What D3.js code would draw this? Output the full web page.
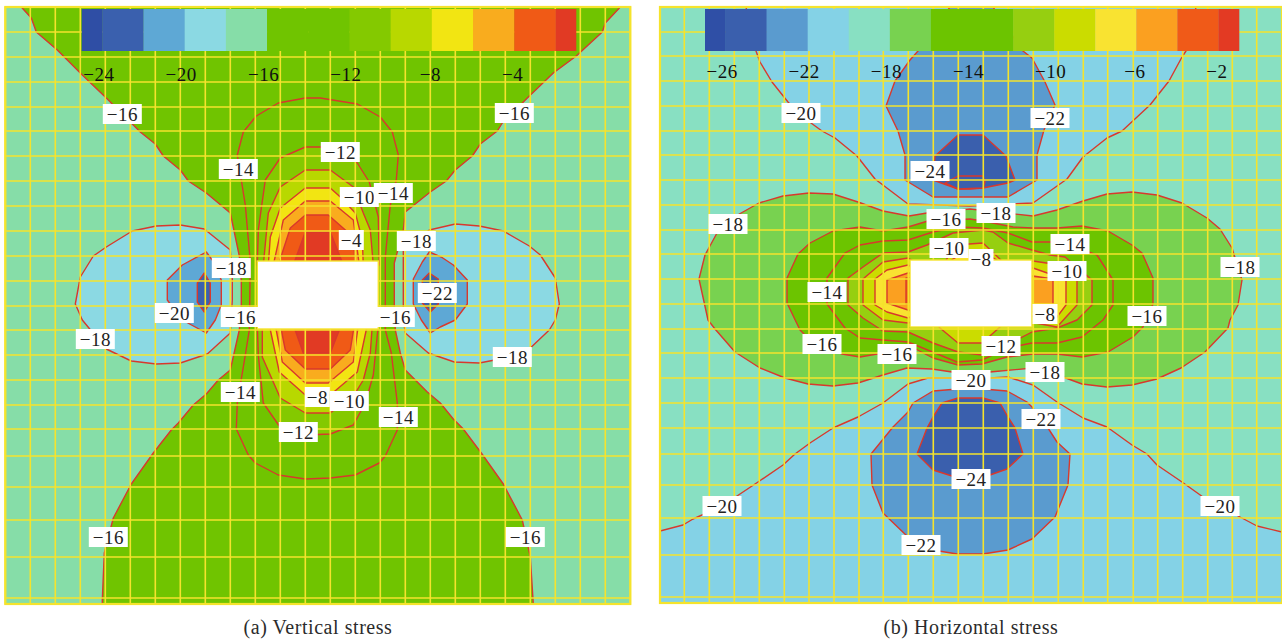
<!DOCTYPE html>
<html><head><meta charset="utf-8">
<style>html,body{margin:0;padding:0;background:#fff}svg{display:block}</style>
<script src="https://cdn.jsdelivr.net/npm/d3@7"></script>
</head><body>
<svg id="chart" width="1282" height="643"></svg>
<script>
// ---------- legend bins ----------
const aEdges = [-25,-24,-22,-20,-18,-16,-14,-12,-10,-8,-6,-4,-2,-1];
const aColors = ["#2f4ea5","#3a60ae","#5ea8d5","#8bd9e3","#86dda8","#70c400","#70c400","#84c900","#b8d800","#f2e512","#f9ac1e","#f05a16","#e13a24"];
const aTicks = [-24,-20,-16,-12,-8,-4];
const bEdges = [-27,-26,-24,-22,-20,-18,-16,-14,-12,-10,-8,-6,-4,-2,-1];
const bColors = ["#2f4fa6","#3a5fad","#5a9bcf","#84d2e6","#88e0c2","#78d250","#6cc400","#6cc400","#96cf10","#cbdc00","#f9e331","#fba020","#f05a18","#e33a23"];
const bTicks = [-26,-22,-18,-14,-10,-6,-2];

// ---------- mesh node positions (model units) ----------
const aMeshX = [0,25,50,75,100,125,150,175,200,225,250,275,300,325,350,375,400,425,450,475,500,525,550,575,600,625];
const aMeshY = [0,25,50,75,100,124,149,174,199,224,249,274,299,323,348,373,398,422,449,480,513,550,591,597];
const bMeshX = [0,24.3,49.3,74.3,99.3,124.3,149,174,199,223.3,248.3,273.3,298.3,323.3,348.3,373.3,398.3,423.3,447.7,473.3,497.7,522.7,547.7,572.3,596.7,622];
const bMeshY = [0,25,49,74,99,124,148,173,198,223,247,272,297,322,346,371,396,421,447,478,511,548,590,596];
const aHole = [252,254,373,322];
const bHole = [250,253,372,320];

// ---------- panel (a) contours, model units ----------
const aLevel16 = [[16,0],[26,11],[31,25],[52,43],[77,68],[101,91],[128,118],[135,125],[150,137],[158,149],[175,163],[183,174],[201,186],[225,206],[234,249],[236,274],[236,299],[234,323],[225,363],[213,373],[201,387],[188,398],[173,416],[166,423],[148,446],[126,477],[108,511],[99,546],[97,593],[97,597],[528,597],[525,550],[517,513],[498,477],[476,446],[458,422],[448,412],[435,396],[422,385],[400,363],[395,346],[390,323],[389,298],[389,256],[398,223],[400,205],[425,185],[441,174],[450,163],[467,149],[475,137],[492,124],[497,116],[522,91],[548,66],[571,49],[597,25],[600,16],[615,0]];
const aLevel14 = [[245,255],[240,198],[232,148],[238,125],[251,109],[273,96],[300,91],[315,91],[352,97],[375,110],[387,125],[393,148],[391,173],[385,198],[380,250],[380,323],[386,346],[392,396],[392,423],[380,449],[374,456],[350,468],[325,471],[300,472],[273,468],[250,456],[243,448],[231,422],[232,396],[240,348],[244,323]];
const aTop12 = [[252,258],[253,223],[260,173],[275,151],[300,140],[326,140],[352,156],[364,175],[373,210],[374,258]];
const aTop10 = [[258,258],[263,206],[275,180],[300,163],[325,163],[348,180],[358,206],[365,223],[368,258]];
const aTop8 = [[263,258],[265,230],[275,201],[300,181],[325,181],[335,190],[350,206],[357,233],[358,258]];
const aTop6 = [[268,258],[278,213],[300,194],[325,194],[348,213],[354,258]];
const aTop4 = [[273,258],[285,221],[300,208],[323,208],[348,230],[350,258]];
const aTop2 = [[288,258],[300,225],[325,225],[338,258]];
const aBot12 = [[252,318],[253,348],[258,396],[274,419],[300,428],[325,427],[348,418],[360,396],[368,368],[373,318]];
const aBot10 = [[257,318],[257,350],[275,391],[300,406],[325,406],[350,386],[358,373],[365,346],[367,318]];
const aBot8 = [[264,318],[274,365],[300,388],[325,388],[352,365],[362,318]];
const aBot6 = [[270,318],[277,355],[300,376],[323,376],[348,355],[353,318]];
const aBot4 = [[275,318],[280,343],[300,362],[325,362],[345,343],[349,318]];
const aBot2 = [[288,318],[298,346],[325,346],[336,318]];
const aLeft18 = [[225,243],[199,222],[175,218],[151,219],[127,224],[101,240],[88,249],[75,270],[70,297],[77,313],[101,342],[126,354],[151,357],[175,356],[202,347],[225,326],[227,293],[227,273]];
const aLeft20 = [[201,245],[177,258],[162,273],[162,293],[177,313],[201,326],[210,313],[216,298],[216,273],[207,253]];
const aLeft22 = [[199,266],[192,276],[192,295],[199,305],[205,295],[205,276]];
const aRight18 = [[398,243],[424,223],[450,217],[474,219],[498,224],[524,239],[535,248],[550,271],[554,297],[550,313],[544,323],[525,341],[500,351],[474,356],[449,355],[423,346],[400,326],[398,313]];
const aRight20 = [[424,245],[436,250],[448,258],[462,273],[462,297],[450,313],[435,320],[425,326],[416,313],[408,297],[408,272],[417,255]];
const aRight22 = [[424,266],[433,272],[433,297],[425,305],[417,296],[417,273]];
const aLabels = [[-16,117,107],[-14,233,162],[-18,226,261],[-20,169,306],[-16,235,310],[-18,90,332],[-14,235,385],[-16,103,530],[-12,293,425],[-8,312,390],[-10,344,394],[-14,393,410],[-16,390,310],[-16,520,530],[-18,507,350],[-22,432,286],[-18,411,234],[-4,346,233],[-10,354,190],[-14,388,186],[-12,335,145],[-16,509,106]];

// ---------- panel (b) contours, model units ----------
const bTop20 = [[86,0],[96,44],[100,55],[112,75],[128,95],[140,108],[162,124],[175,131],[197,149],[215,172],[248,197],[310,199],[373,196],[407,172],[423,150],[447,131],[462,124],[490,98],[509,74],[522,50],[526,44],[536,0]];
const bTop22 = [[290,0],[333,0],[363,44],[372,51],[385,75],[395,98],[384,123],[377,148],[377,173],[348,190],[310,190],[273,190],[245,173],[245,148],[238,124],[226,99],[235,74],[250,53],[258,44]];
const bTop24 = [[298,128],[323,128],[346,149],[355,173],[348,176],[323,181],[310,182],[298,182],[273,173],[275,149]];
const bTop24Inner = [[285,176],[298,169],[323,169],[325,175],[323,181],[298,182]];
const bLevel18 = [[39,272],[45,248],[57,226],[74,210],[99,196],[123,189],[149,186],[173,187],[198,195],[223,204],[249,209],[267,206],[310,202],[373,209],[397,203],[423,194],[447,187],[472,185],[497,188],[522,196],[547,211],[560,222],[572,241],[582,273],[578,298],[570,313],[568,321],[545,345],[521,361],[497,372],[472,378],[447,380],[422,377],[403,370],[373,361],[330,365],[292,365],[272,362],[247,361],[223,368],[198,376],[173,379],[148,377],[125,371],[100,361],[75,345],[55,322],[48,313]];
const bLevel16 = [[248,220],[268,214],[310,212],[323,214],[353,220],[373,221],[397,221],[422,219],[448,224],[472,238],[482,246],[493,271],[493,297],[483,320],[473,330],[448,345],[422,350],[397,347],[373,347],[347,350],[322,357],[298,358],[273,351],[248,338],[223,346],[200,350],[182,347],[148,331],[140,323],[127,296],[127,271],[138,247],[150,236],[173,224],[200,220],[223,224]];
const bLevel14 = [[248,233],[273,225],[297,220],[323,221],[348,226],[372,235],[397,235],[415,240],[437,248],[453,273],[453,298],[443,313],[422,330],[397,336],[372,336],[347,341],[322,353],[297,355],[248,335],[223,333],[200,331],[185,321],[167,297],[167,271],[185,246],[200,238],[223,234]];
const bLevel12 = [[188,271],[203,260],[223,246],[248,245],[267,238],[293,226],[323,223],[333,225],[348,236],[372,243],[390,248],[405,250],[432,273],[432,298],[417,313],[397,321],[372,325],[347,338],[322,348],[298,345],[273,336],[248,325],[223,324],[203,311],[188,298]];
const bLevel10 = [[203,272],[223,255],[248,251],[255,255],[285,255],[295,238],[323,236],[343,255],[365,255],[373,254],[393,257],[417,273],[417,298],[397,320],[370,315],[345,315],[340,320],[322,336],[298,336],[280,321],[275,315],[252,315],[248,316],[223,313],[203,298]];
const bLeft8 = [[215,272],[227,263],[248,258],[255,261],[255,308],[248,311],[227,305],[215,298]];
const bRight8 = [[370,261],[373,261],[393,268],[406,273],[406,298],[397,310],[380,313],[370,308]];
const bTopHole8 = [[288,255],[300,248],[325,246],[340,255]];
const bLeft6 = [[227,273],[248,266],[255,266],[255,305],[248,303],[227,296]];
const bRight6 = [[370,269],[373,269],[393,272],[393,298],[373,305],[370,305]];
const bLeft4 = [[246,271],[255,271],[255,297],[246,297]];
const bBot20 = [[0,524],[23,518],[33,512],[60,500],[77,489],[98,475],[123,458],[135,447],[150,436],[173,421],[198,410],[223,396],[248,377],[268,371],[292,371],[330,371],[348,370],[373,378],[397,395],[423,411],[447,420],[472,438],[487,447],[497,458],[522,475],[543,490],[580,510],[597,519],[622,525],[622,596],[0,596]];
const bBot22 = [[273,384],[253,396],[248,405],[233,420],[211,447],[212,478],[223,506],[248,530],[273,543],[297,547],[323,547],[348,543],[372,532],[395,510],[408,478],[410,447],[397,435],[388,421],[372,400],[367,395],[347,384],[323,382],[298,382]];
const bBot24 = [[298,391],[323,391],[340,396],[348,410],[355,421],[363,447],[347,462],[330,468],[292,469],[273,463],[257,447],[267,421],[273,410],[282,396]];
const bLabels = [[-20,141,106],[-18,68,217],[-24,270,164],[-16,286,212],[-10,289,241],[-14,167,285],[-22,390,111],[-18,336,206],[-8,321,252],[-14,410,237],[-10,407,264],[-18,580,260],[-8,385,307],[-16,487,309],[-16,162,337],[-16,237,347],[-20,311,373],[-20,62,499],[-22,261,538],[-24,311,472],[-12,341,339],[-18,385,365],[-22,381,412],[-20,560,499]];

// band = lower bound of the legend bin that fills the region
const aRegions = [[-16,aLevel16],[-14,aLevel14],[-20,aLeft18],[-22,aLeft20],[-24,aLeft22],[-20,aRight18],[-22,aRight20],[-24,aRight22],
  [-12,aTop12],[-10,aTop10],[-8,aTop8],[-6,aTop6],[-4,aTop4],[-2,aTop2],
  [-12,aBot12],[-10,aBot10],[-8,aBot8],[-6,aBot6],[-4,aBot4],[-2,aBot2]];
const bRegions = [[-22,bTop20],[-24,bTop22],[-26,bTop24],[-26,bTop24Inner],[-22,bBot20],[-24,bBot22],[-26,bBot24],
  [-18,bLevel18],[-16,bLevel16],[-14,bLevel14],[-12,bLevel12],[-10,bLevel10],[-8,bLeft8],[-8,bRight8],[-8,bTopHole8],[-6,bLeft6],[-6,bRight6],[-4,bLeft4]];

const YELLOW = "#f5e32c", RED = "#d9382c", FONT = "'Liberation Serif', serif";
const svg = d3.select("#chart");

function panel(o) {
  const id = o.id;
  const x = d3.scaleLinear().domain(o.xDomain).range(o.xRange);
  const y = d3.scaleLinear().domain(o.yDomain).range(o.yRange);
  const color = d3.scaleThreshold().domain(o.edges.slice(1,-1)).range(o.colors);
  const g = svg.append("g");
  g.append("clipPath").attr("id","clip"+id).append("rect")
    .attr("x",x(o.xDomain[0])).attr("y",y(o.yDomain[0]))
    .attr("width",x(o.xDomain[1])-x(o.xDomain[0])).attr("height",y(o.yDomain[1])-y(o.yDomain[0]));
  g.append("rect").attr("x",x(o.xDomain[0])).attr("y",y(o.yDomain[0]))
    .attr("width",x(o.xDomain[1])-x(o.xDomain[0])).attr("height",y(o.yDomain[1])-y(o.yDomain[0]))
    .attr("fill",color(o.backBand+0.5));
  const line = d3.line().x(d=>x(d[0])).y(d=>y(d[1])).curve(d3.curveLinearClosed);
  g.append("g").attr("clip-path",`url(#clip${id})`).selectAll("path").data(o.regions).join("path")
    .attr("d",d=>line(d[1])).attr("fill",d=>color(d[0]+0.5))
    .attr("stroke",RED).attr("stroke-width",1.4).attr("stroke-linejoin","round");
  // mesh
  const mesh = g.append("g").attr("stroke",YELLOW).attr("stroke-width",1.6);
  mesh.selectAll("line.v").data(o.meshX).join("line").attr("class","v")
    .attr("x1",d=>x(d)).attr("x2",d=>x(d)).attr("y1",y(o.yDomain[0])).attr("y2",y(o.yDomain[1]));
  mesh.selectAll("line.h").data(o.meshY).join("line").attr("class","h")
    .attr("y1",d=>y(d)).attr("y2",d=>y(d)).attr("x1",x(o.xDomain[0])).attr("x2",x(o.xDomain[1]));
  g.append("rect").attr("x",x(o.xDomain[0])).attr("y",y(o.yDomain[0]))
    .attr("width",x(o.xDomain[1])-x(o.xDomain[0])).attr("height",y(o.yDomain[1])-y(o.yDomain[0]))
    .attr("fill","none").attr("stroke",YELLOW).attr("stroke-width",2.2);
  // opening
  g.append("rect").attr("x",x(o.hole[0])).attr("y",y(o.hole[1]))
    .attr("width",x(o.hole[2])-x(o.hole[0])).attr("height",y(o.hole[3])-y(o.hole[1]))
    .attr("fill","#fff").attr("stroke",YELLOW).attr("stroke-width",1.4);
  // legend
  const lx = d3.scaleLinear().domain(d3.extent(o.edges)).range(o.legendRange);
  g.append("g").selectAll("rect").data(o.colors).join("rect")
    .attr("x",(d,i)=>lx(o.edges[i])).attr("width",(d,i)=>lx(o.edges[i+1])-lx(o.edges[i])+0.3)
    .attr("y",9).attr("height",42).attr("fill",d=>d);
  const axis = d3.axisBottom(lx).tickValues(o.ticks).tickSize(0).tickFormat(d=>"\u2212"+Math.abs(d));
  const ag = g.append("g").attr("transform",`translate(0,${o.axisY})`).call(axis);
  ag.select(".domain").remove();
  ag.selectAll("text").attr("font-family",FONT).attr("font-size",19).attr("fill","#111")
    .attr("letter-spacing",0.5).attr("dx",d=>Math.abs(d)>=10?-4:-2);
  // contour labels
  const lab = g.append("g").selectAll("g").data(o.labels).join("g")
    .attr("transform",d=>`translate(${x(d[1])},${y(d[2])})`);
  lab.append("rect").attr("x",d=>Math.abs(d[0])>=10?-19.5:-12.5).attr("y",-10)
    .attr("width",d=>Math.abs(d[0])>=10?39:25).attr("height",20).attr("fill","#fff");
  lab.append("text").attr("text-anchor","middle").attr("y",6.5)
    .attr("font-family",FONT).attr("font-size",19).attr("letter-spacing",0.5).attr("fill","#222")
    .text(d=>"\u2212"+Math.abs(d[0]));
  // caption
  g.append("text").attr("x",o.captionX).attr("y",634).attr("text-anchor","middle")
    .attr("font-family",FONT).attr("font-size",20).attr("letter-spacing",0.55).attr("fill","#2b2b2b").text(o.caption);
}

panel({id:"a",xDomain:[0,625],xRange:[5.3,630.3],yDomain:[0,597],yRange:[7,604],edges:aEdges,colors:aColors,ticks:aTicks,
  backBand:-18,regions:aRegions,meshX:aMeshX,meshY:aMeshY,hole:aHole,labels:aLabels,legendRange:[81.7,576],axisY:64,
  captionX:318,caption:"(a) Vertical stress"});
panel({id:"b",xDomain:[0,622],xRange:[660,1282],yDomain:[0,596],yRange:[7,603],edges:bEdges,colors:bColors,ticks:bTicks,
  backBand:-20,regions:bRegions,meshX:bMeshX,meshY:bMeshY,hole:bHole,labels:bLabels,legendRange:[705,1239],axisY:61,
  captionX:971,caption:"(b) Horizontal stress"});
</script>
</body></html>
